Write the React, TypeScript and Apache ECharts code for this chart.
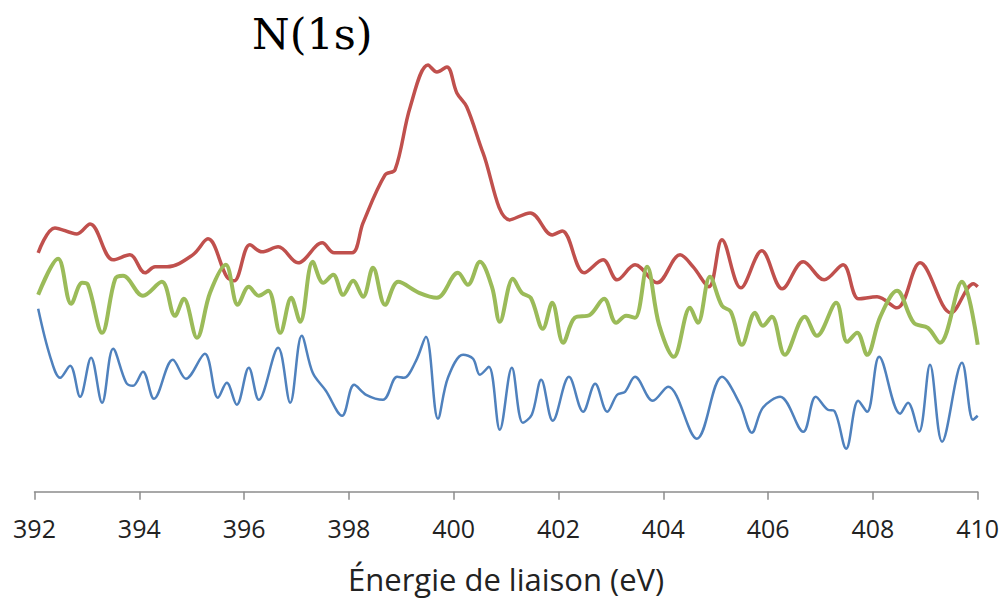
import React, { useEffect, useRef } from "react";
import * as echarts from "echarts";

// Binding energy (eV) and intensity (arb. units) for each spectrum
const redEnergy = [392.07, 392.39, 392.81, 393.06, 393.5, 393.82, 394.11, 394.3, 394.53, 395.02, 395.31, 395.67, 395.81, 396.11, 396.34, 396.65, 397.03, 397.49, 397.72, 398.06, 398.27, 398.69, 398.88, 399.17, 399.51, 399.68, 399.87, 400.06, 400.25, 400.56, 401.07, 401.46, 401.88, 402.07, 402.49, 402.85, 403.12, 403.46, 403.88, 404.32, 404.57, 404.87, 405.12, 405.48, 405.88, 406.27, 406.67, 407.07, 407.43, 407.73, 408.08, 408.46, 408.9, 409.49, 409.92, 410.0];
const redIntensity = [239, 264, 258, 268, 232, 237, 219, 225, 225, 237, 253, 215, 211, 247, 240, 245, 229, 249, 239, 239, 269, 317, 322, 385, 427, 420, 425, 399, 385, 339, 272, 279, 257, 261, 219, 232, 212, 227, 209, 237, 225, 205, 252, 204, 241, 203, 230, 212, 227, 193, 195, 184, 229, 179, 208, 205];

const greenEnergy = [392.07, 392.45, 392.7, 392.91, 393.02, 393.29, 393.54, 393.69, 394.07, 394.43, 394.68, 394.85, 395.1, 395.35, 395.65, 395.88, 396.09, 396.28, 396.46, 396.69, 396.9, 397.07, 397.31, 397.51, 397.7, 397.89, 398.08, 398.27, 398.46, 398.69, 398.94, 399.34, 399.68, 400.08, 400.27, 400.5, 400.73, 400.88, 401.13, 401.3, 401.47, 401.7, 401.88, 402.09, 402.31, 402.6, 402.87, 403.1, 403.29, 403.46, 403.69, 403.92, 404.2, 404.51, 404.66, 404.89, 405.12, 405.29, 405.5, 405.75, 405.9, 406.07, 406.32, 406.7, 406.93, 407.3, 407.51, 407.7, 407.89, 408.14, 408.46, 408.78, 409.05, 409.28, 409.7, 410.0];
const greenIntensity = [197, 233, 188, 209, 207, 159, 213, 216, 196, 210, 176, 193, 154, 199, 227, 187, 205, 196, 201, 159, 194, 170, 230, 209, 217, 197, 211, 195, 224, 187, 210, 199, 194, 219, 207, 230, 205, 170, 213, 199, 194, 163, 189, 149, 174, 177, 193, 169, 176, 174, 225, 167, 135, 184, 169, 215, 186, 180, 147, 179, 166, 175, 137, 175, 156, 189, 150, 159, 137, 175, 201, 169, 164, 149, 210, 147];

const blueEnergy = [392.07, 392.3, 392.49, 392.68, 392.87, 393.08, 393.29, 393.5, 393.75, 393.88, 394.07, 394.28, 394.64, 394.89, 395.25, 395.5, 395.67, 395.86, 396.09, 396.28, 396.65, 396.88, 397.1, 397.31, 397.56, 397.87, 398.1, 398.33, 398.65, 398.92, 399.05, 399.28, 399.47, 399.7, 399.89, 400.18, 400.37, 400.5, 400.67, 400.88, 401.11, 401.32, 401.49, 401.67, 401.89, 402.2, 402.47, 402.7, 402.93, 403.12, 403.27, 403.46, 403.8, 404.09, 404.64, 405.12, 405.46, 405.69, 405.9, 406.23, 406.67, 406.91, 407.14, 407.26, 407.49, 407.72, 407.89, 408.12, 408.52, 408.67, 408.88, 409.09, 409.32, 409.7, 409.91, 410.0];
const blueIntensity = [183, 135, 114, 126, 95, 134, 89, 143, 109, 106, 120, 93, 132, 113, 138, 94, 109, 87, 124, 92, 144, 89, 156, 119, 101, 76, 107, 97, 92, 115, 114, 131, 155, 73, 114, 137, 133, 117, 125, 62, 124, 69, 77, 112, 71, 115, 80, 108, 80, 97, 100, 115, 91, 105, 53, 115, 88, 59, 84, 95, 60, 95, 82, 81, 43, 91, 80, 135, 78, 89, 60, 127, 50, 129, 72, 76];

const xTicks = [392, 394, 396, 398, 400, 402, 404, 406, 408, 410];
const titleText = "N(1s)";
const xAxisTitle = "Énergie de liaison (eV)";

const pairs = (xs: number[], ys: number[]) => xs.map((x, i) => [x, ys[i]]);

export default function App() {
  const ref = useRef<HTMLDivElement>(null);
  useEffect(() => {
    if (!ref.current) return;
    const chart = echarts.init(ref.current, undefined, { renderer: "svg" });
    const lineSeries = (name: string, xs: number[], ys: number[], color: string, width: number) => ({
      name,
      type: "line",
      data: pairs(xs, ys),
      smooth: 0.35,
      showSymbol: false,
      symbol: "none",
      lineStyle: { color, width },
      itemStyle: { color },
      z: 2,
    });
    chart.setOption({
      animation: false,
      backgroundColor: "#ffffff",
      title: {
        text: titleText,
        left: 252,
        top: 12,
        padding: 0,
        textStyle: { fontFamily: "DejaVu Serif", fontSize: 43, fontWeight: "normal", color: "#000" },
      },
      grid: { left: 34.5, right: 27.3, top: 52, bottom: 111.3 },
      xAxis: {
        type: "value",
        min: 392,
        max: 410,
        interval: 2,
        name: xAxisTitle,
        nameLocation: "middle",
        nameGap: 72,
        nameTextStyle: { fontFamily: "Open Sans", fontSize: 31, color: "#222" },
        axisLine: { show: true, lineStyle: { color: "#8c8c8c", width: 1.5 } },
        axisTick: { show: true, length: 8, lineStyle: { color: "#8c8c8c", width: 1.5 } },
        axisLabel: {
          fontFamily: "Open Sans",
          fontSize: 25,
          color: "#222",
          margin: 24,
          customValues: xTicks,
          formatter: (v: number) => String(v),
        },
        splitLine: { show: false },
      },
      yAxis: {
        type: "value",
        min: 0,
        max: 440,
        show: false,
        splitLine: { show: false },
      },
      series: [
        lineSeries("rouge", redEnergy, redIntensity, "#C0504D", 3.5),
        lineSeries("vert", greenEnergy, greenIntensity, "#9BBB59", 4),
        lineSeries("bleu", blueEnergy, blueIntensity, "#4F81BD", 2.5),
      ],
    });
    return () => chart.dispose();
  }, []);
  return (
    <div
      ref={ref}
      style={{ position: "absolute", left: 0, top: 0, width: 1005, height: 603, background: "#fff" }}
    />
  );
}
